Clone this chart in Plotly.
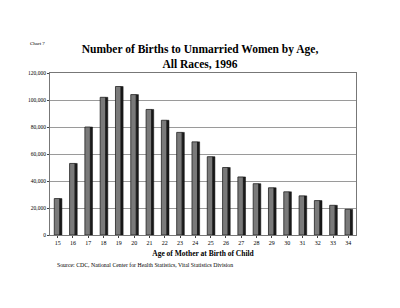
import plotly.graph_objects as go

ages = [str(a) for a in range(15, 35)]
births = [27000, 53000, 80000, 102000, 110000, 104000, 93000, 85000, 76000, 69000,
          58000, 50000, 43000, 38000, 35000, 32000, 29000, 25500, 22000, 19000]
y_ticks = [0, 20000, 40000, 60000, 80000, 100000, 120000]
y_labels = ["0", "20,000", "40,000", "60,000", "80,000", "100,000", "120,000"]

serif = "Liberation Serif, Times New Roman, serif"

fig = go.Figure()
# front face
fig.add_trace(go.Bar(x=ages, y=births, width=0.36, offset=-0.22,
                     marker=dict(color="#7a7a7a", line=dict(color="#222", width=0.8)),
                     showlegend=False, hoverinfo="x+y"))
# dark side face
fig.add_trace(go.Bar(x=ages, y=births, width=0.14, offset=0.14,
                     marker=dict(color="#1a1a1a", line=dict(color="#111", width=0.5)),
                     showlegend=False, hoverinfo="skip"))

fig.update_layout(
    width=400, height=308,
    margin=dict(l=50, r=44, t=73, b=73),
    paper_bgcolor="white", plot_bgcolor="white",
    barmode="overlay",
    font=dict(family=serif, color="black"),
    title=dict(text="<b>Number of Births to Unmarried Women by Age,<br>All Races, 1996</b>",
               x=0.5, xanchor="center", y=0.828, yanchor="middle",
               font=dict(size=11.5, family=serif)),
    xaxis=dict(type="category", range=[-0.5, 19.5], showgrid=False,
               tickfont=dict(size=6, family=serif), ticks="outside", ticklen=2,
               showline=True, linecolor="#777", linewidth=1, mirror=True,
               title=dict(text="<b>Age of Mother at Birth of Child</b>",
                          font=dict(size=7.5, family=serif), standoff=5)),
    yaxis=dict(range=[0, 120000], tickvals=y_ticks, ticktext=y_labels,
               tickfont=dict(size=5.5, family=serif), showgrid=True,
               gridcolor="#9a9a9a", gridwidth=1, ticks="outside", ticklen=2,
               showline=True, linecolor="#777", linewidth=1, mirror=True,
               zeroline=False),
    annotations=[
        dict(text="Chart 7", x=-0.04, y=1.18, xref="paper", yref="paper",
             xanchor="center", yanchor="middle", showarrow=False,
             font=dict(size=5, family=serif)),
        dict(text="Source: CDC, National Center for Health Statistics, Vital Statistics Division",
             x=0.016, y=-0.185, xref="paper", yref="paper", xanchor="left", yanchor="middle",
             showarrow=False, font=dict(size=5.8, family=serif)),
    ],
)

fig.write_html("out.html")
